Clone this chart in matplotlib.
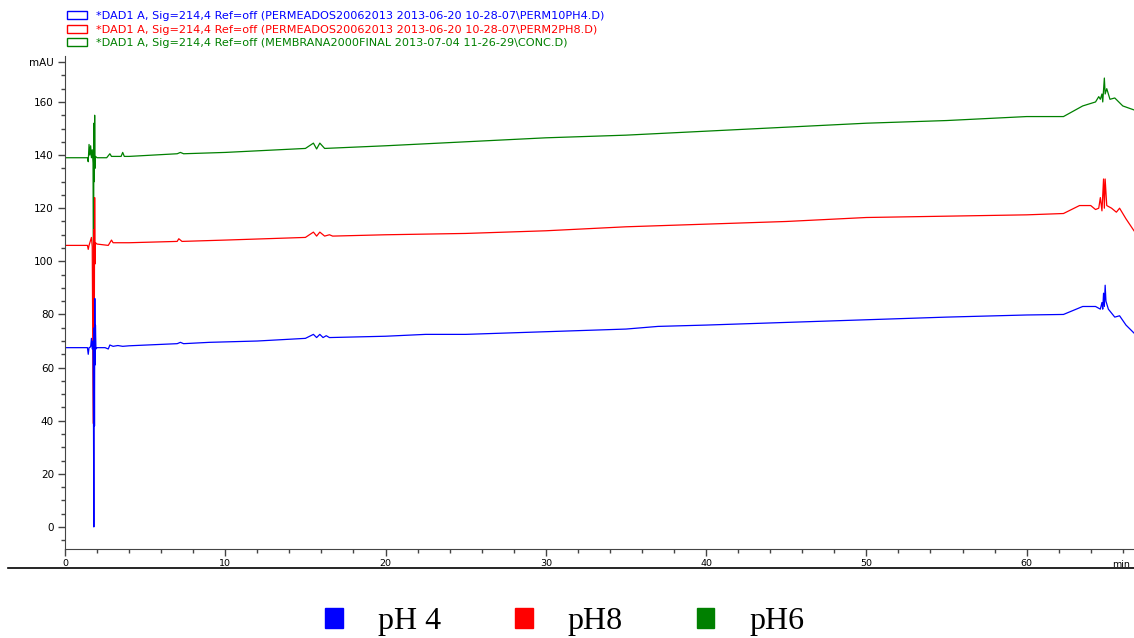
import numpy as np
import matplotlib
matplotlib.use('Agg')
import matplotlib.pyplot as plt
from matplotlib.patches import Patch
from matplotlib.lines import Line2D
from matplotlib.ticker import MultipleLocator, FixedLocator

# retention time [min] / absorbance [mAU]
t_ph4 = [0, 1.4, 1.45, 1.5, 1.6, 1.65, 1.7, 1.75, 1.78, 1.8, 1.82, 1.84, 1.86, 1.88, 1.9, 1.93,
         2.0, 2.5, 2.7, 2.8, 3.0, 3.3, 3.6, 4.0, 7.0, 7.2, 7.4, 9, 12, 15, 15.5, 15.7, 15.9, 16.1,
         16.3, 16.5, 20, 22.5, 25, 30, 35, 37, 40, 45, 50, 55, 60, 62.3, 63.5, 64.3, 64.6, 64.7,
         64.75, 64.8, 64.85, 64.9, 64.95, 65.1, 65.5, 65.8, 66.2, 66.7]
v_ph4 = [67.5, 67.5, 65, 67.5, 67.8, 71, 67, 70, 37, 0, 75, 38, 86, 61, 76, 67,
         67.5, 67.5, 67, 68.5, 68, 68.3, 68, 68.2, 69, 69.5, 69, 69.5, 70, 71, 72.5, 71.3, 72.5, 71.3,
         72, 71.3, 71.8, 72.5, 72.5, 73.5, 74.5, 75.5, 76, 77, 78, 79, 79.8, 80, 83, 83, 82, 84.5,
         82, 88, 83, 91, 85, 82, 79, 79.5, 76, 73]

t_ph8 = [0, 1.4, 1.45, 1.5, 1.65, 1.7, 1.76, 1.8, 1.83, 1.85, 1.87, 1.9, 2.0, 2.7, 2.9, 3.0, 4,
         7, 7.1, 7.3, 10, 15, 15.5, 15.7, 15.9, 16.2, 16.5, 16.7, 20, 25, 30, 35, 40, 45, 50, 55,
         60, 62.3, 63.3, 64.0, 64.3, 64.5, 64.6, 64.7, 64.8, 64.85, 64.9, 65.0, 65.3, 65.6, 65.8,
         66.2, 66.7]
v_ph8 = [106, 106, 104.5, 106, 109, 105.5, 39, 112, 78, 124, 99, 107, 106.5, 106, 108, 107, 107,
         107.5, 108.5, 107.5, 108, 109, 111, 109.5, 111, 109.5, 110, 109.5, 110, 110.5, 111.5, 113,
         114, 115, 116.5, 117, 117.5, 118, 121, 121, 119.5, 120, 124, 119, 131, 120, 131, 121, 120,
         118.5, 120, 116, 111.5]

t_ph6 = [0, 1.4, 1.45, 1.5, 1.55, 1.6, 1.65, 1.7, 1.75, 1.78, 1.8, 1.83, 1.85, 1.87, 1.9, 2.0,
         2.6, 2.8, 2.9, 3.5, 3.6, 3.7, 4, 7, 7.2, 7.4, 10, 15, 15.5, 15.7, 15.9, 16.2, 20, 25, 30,
         35, 40, 45, 50, 55, 60, 62.3, 63.5, 64.3, 64.5, 64.6, 64.7, 64.75, 64.85, 64.9, 65.0, 65.2,
         65.5, 66.0, 66.7]
v_ph6 = [139, 139, 137.5, 144, 140, 143.5, 139, 142, 137, 78, 152, 130, 155, 135, 139.5, 139,
         139, 140.5, 139.5, 139.5, 141, 139.5, 139.5, 140.5, 141, 140.5, 141, 142.5, 144.5, 142.3,
         144.5, 142.5, 143.5, 145, 146.5, 147.5, 149, 150.5, 152, 153, 154.5, 154.5, 158.5, 160, 162,
         161, 163, 160, 169, 163, 165, 161, 161.5, 158.5, 157]

file_labels = [r"*DAD1 A, Sig=214,4 Ref=off (PERMEADOS20062013 2013-06-20 10-28-07\PERM10PH4.D)",
               r"*DAD1 A, Sig=214,4 Ref=off (PERMEADOS20062013 2013-06-20 10-28-07\PERM2PH8.D)",
               r"*DAD1 A, Sig=214,4 Ref=off (MEMBRANA2000FINAL 2013-07-04 11-26-29\CONC.D)"]
ph_labels = ["pH 4", "pH8", "pH6"]
colors = ['#0000ff', '#ff0000', '#008000']

fig = plt.figure(figsize=(11.34, 6.38), dpi=100)
ax = fig.add_axes([65/1134, 1-549/638, 1-65/1134, (549-56)/638])

# draw green first so blue ends on top like the original
ax.plot(t_ph6, v_ph6, color=colors[2], linewidth=0.9)
ax.plot(t_ph8, v_ph8, color=colors[1], linewidth=0.9)
ax.plot(t_ph4, v_ph4, color=colors[0], linewidth=0.9)

ax.set_xlim(0, 66.7)
ax.set_ylim(-8.3, 177.3)
ax.spines['top'].set_visible(False)
ax.spines['right'].set_visible(False)
ax.spines['left'].set_color('#444444')
ax.spines['bottom'].set_color('#444444')

yt = [0, 20, 40, 60, 80, 100, 120, 140, 160, 175]
ax.yaxis.set_major_locator(FixedLocator(yt))
ax.set_yticklabels([str(v) for v in yt[:-1]] + ['mAU'])
ax.yaxis.set_minor_locator(MultipleLocator(5))
ax.xaxis.set_major_locator(MultipleLocator(10))
ax.xaxis.set_minor_locator(MultipleLocator(2))
ax.tick_params(which='major', length=5, width=1, color='#444444', labelsize=7.5,
               labelfontfamily='DejaVu Sans', pad=3)
ax.tick_params(which='minor', length=3, width=1, color='#444444')
ax.tick_params(axis='x', labelsize=6.8, pad=2)
ax.text(65.35, -12.5, 'min', fontsize=6.8, family='DejaVu Sans', va='top', ha='left', clip_on=False)

# long rule under the x tick labels
fig.add_artist(Line2D([8/1134, 1], [1-568/638, 1-568/638], color='black', linewidth=1.2))

# data-file legend at the top
h_top = [Patch(facecolor='white', edgecolor=c, linewidth=1) for c in colors]
leg1 = fig.legend(h_top, file_labels, loc='upper left', bbox_to_anchor=(67/1134, 1-11/638),
                  frameon=False, prop={'family': 'DejaVu Sans', 'size': 8.1},
                  handlelength=1.8, handleheight=0.7, handletextpad=0.8, labelspacing=0.32,
                  borderpad=0, borderaxespad=0)
for txt, c in zip(leg1.get_texts(), colors):
    txt.set_color(c)

# pH legend at the bottom
h_bot = [Patch(facecolor=c, edgecolor=c) for c in colors]
fig.legend(h_bot, ph_labels, loc='center', bbox_to_anchor=(565/1134, 1-622/638), ncol=3,
           frameon=False, prop={'family': 'Liberation Serif', 'size': 23},
           handlelength=0.56, handleheight=0.56, handletextpad=1.1, columnspacing=2.3,
           borderpad=0, borderaxespad=0)

plt.savefig('out.png', dpi=100)
